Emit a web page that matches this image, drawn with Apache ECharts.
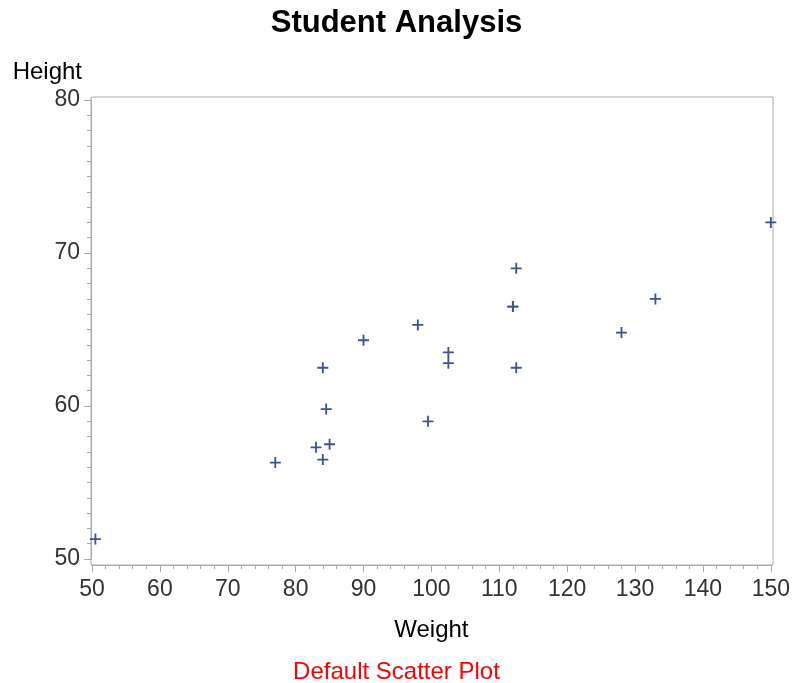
<!DOCTYPE html>
<html><head><meta charset="utf-8">
<script src="https://cdn.jsdelivr.net/npm/echarts@6/dist/echarts.min.js"></script>
<style>html,body{margin:0;padding:0;background:#fff}#c{width:793px;height:683px}</style>
</head><body><div id="c"></div>
<script>
const names   = ["Alfred","Alice","Barbara","Carol","Henry","James","Jane","Janet","Jeffrey","John","Joyce","Judy","Louise","Mary","Philip","Robert","Ronald","Thomas","William"];
const weights = [112.5, 84.0, 98.0, 102.5, 102.5, 83.0, 84.5, 112.5, 84.0, 99.5, 50.5, 90.0, 77.0, 112.0, 150.0, 128.0, 133.0, 85.0, 112.0];
const heights = [69.0, 56.5, 65.3, 62.8, 63.5, 57.3, 59.8, 62.5, 62.5, 59.0, 51.3, 64.3, 56.3, 66.5, 72.0, 64.8, 67.0, 57.5, 66.5];
const xTicks = [50, 150, 10];
const yTicks = [50, 80, 10];

const font = "'Liberation Sans', Arial, sans-serif";
const axisGray = '#a3abb3';
const chart = echarts.init(document.getElementById('c'), null, {renderer:'canvas'});
chart.setOption({
  animation:false,
  backgroundColor:'#fff',
  title:[
    {text:'Student Analysis', left:'center', top:3, textStyle:{fontFamily:font, fontSize:31, fontWeight:'bold', color:'#000'}},
    {text:'Default Scatter Plot', left:'center', top:655, textStyle:{fontFamily:font, fontSize:24, fontWeight:'normal', color:'#ff0000'}}
  ],
  grid:[
    {left:92, right:22, top:100, bottom:124, show:false, containLabel:false},
    {left:91, right:20, top:97, bottom:118, show:true, borderColor:axisGray, borderWidth:1, containLabel:false}
  ],
  xAxis:[{
    gridIndex:0, type:'value', min:xTicks[0], max:xTicks[1], interval:xTicks[2], offset:6,
    name:'Weight', nameLocation:'middle', nameGap:53,
    nameTextStyle:{fontFamily:font, fontSize:24, color:'#000'},
    axisLine:{show:true, lineStyle:{color:axisGray}},
    axisTick:{show:true, length:7, lineStyle:{color:axisGray}},
    minorTick:{show:true, splitNumber:5, length:4, lineStyle:{color:axisGray}},
    axisLabel:{fontFamily:font, fontSize:23, color:'#333', margin:13},
    splitLine:{show:false}
  },{
    gridIndex:1, type:'value', show:false, min:0, max:1
  }],
  yAxis:[{
    gridIndex:0, type:'value', min:yTicks[0], max:yTicks[1], interval:yTicks[2], offset:1,
    name:'Height', nameLocation:'end', nameGap:16,
    nameTextStyle:{fontFamily:font, fontSize:24, color:'#000', align:'right', padding:[0,9,0,0]},
    axisLine:{show:true, lineStyle:{color:axisGray}},
    axisTick:{show:true, length:7, lineStyle:{color:axisGray}},
    minorTick:{show:true, splitNumber:10, length:4, lineStyle:{color:axisGray}},
    axisLabel:{fontFamily:font, fontSize:23, color:'#333', margin:11},
    splitLine:{show:false}
  },{
    gridIndex:1, type:'value', show:false, min:0, max:1
  }],
  series:[{
    type:'scatter', xAxisIndex:0, yAxisIndex:0,
    data: weights.map((w,i)=>[w, heights[i], names[i]]),
    symbol:'path://M5,0H7V5H12V7H7V12H5V7H0V5H5Z',
    symbolSize:11,
    itemStyle:{color:'#3f5296', opacity:1},
    emphasis:{disabled:true}
  }]
});
</script></body></html>
